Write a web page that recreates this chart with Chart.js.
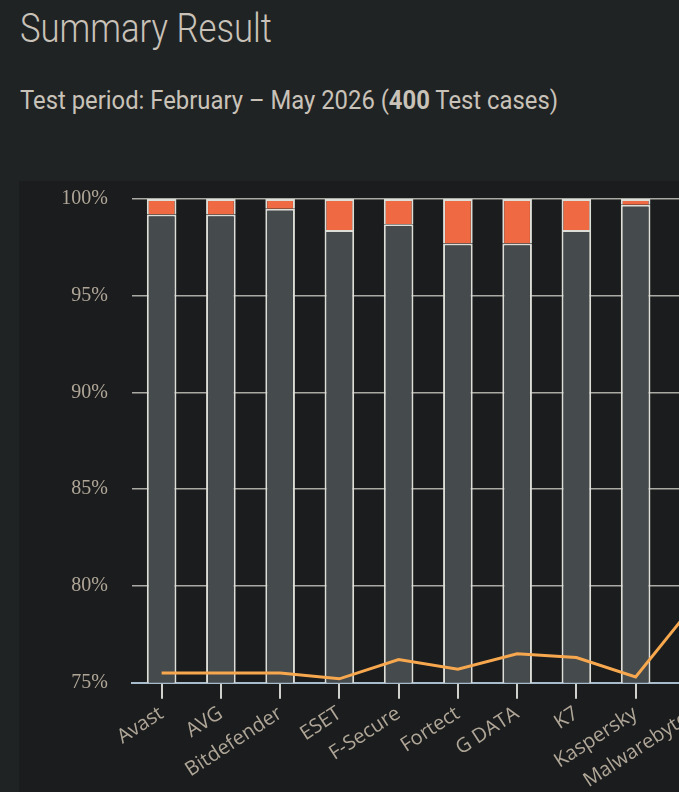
<!DOCTYPE html>
<html>
<head>
<meta charset="utf-8">
<script src="https://cdn.jsdelivr.net/npm/chart.js@4"></script>
<style>
  html, body { margin: 0; padding: 0; background: #202324; overflow: hidden; width: 679px; height: 792px; }
  .hd { position: absolute; left: 20px; margin: 0; color: #c9c2b8; font-family: Roboto, sans-serif; line-height: 1; white-space: nowrap; transform-origin: 0 0; }
  #title { top: 9px; font-size: 40px; font-weight: 300; }
  #sub { top: 87px; font-size: 26px; font-weight: 400; }
  #sub b { font-weight: 700; }
  #wrap { position: absolute; left: 19px; top: 181px; width: 740px; height: 620px; background: #1a1c1d; overflow: hidden; }
  #c { display: block; margin-top: -18.3px; }
</style>
</head>
<body>
<h1 class="hd" id="title">Summary Result</h1>
<p class="hd" id="sub">Test period: February – May 2026 (<b>400</b> Test cases)</p>
<div id="wrap"><canvas id="c" width="740" height="638"></canvas></div>
<script>
const categories = ["Avast", "AVG", "Bitdefender", "ESET", "F-Secure", "Fortect", "G DATA", "K7", "Kaspersky", "Malwarebytes"];
const blocked     = [99.2, 99.2, 99.5, 98.4, 98.7, 97.7, 97.7, 98.4, 99.7, 99.0];
const compromised = [0.8, 0.8, 0.5, 1.6, 1.3, 2.3, 2.3, 1.6, 0.3, 1.0];
const lineValues  = [75.5, 75.5, 75.5, 75.2, 76.2, 75.7, 76.5, 76.3, 75.3, 79.1];
const yTicks = [75, 80, 85, 90, 95, 100];

// condense heading text to reference widths
function fit(id, w) {
  const el = document.getElementById(id);
  const nat = el.getBoundingClientRect().width;
  el.style.transform = 'scaleX(' + (w / nat) + ')';
}
fit('title', 252);
fit('sub', 538);

const labelColor = '#b0a698';
new Chart(document.getElementById('c'), {
  data: {
    labels: categories,
    datasets: [
      { type: 'line', label: 'Line', data: lineValues, borderColor: '#f7a84f', borderWidth: 3,
        pointRadius: 0, tension: 0, fill: false, order: 0, stack: 'line' },
      { type: 'bar', label: 'Blocked', data: blocked, backgroundColor: '#454a4c',
        borderColor: '#deded8', borderWidth: 2, order: 1, stack: 's',
        barPercentage: 0.5, categoryPercentage: 1 },
      { type: 'bar', label: 'Compromised', data: compromised, backgroundColor: '#ef6a42',
        borderColor: '#deded8', borderWidth: 2, order: 1, stack: 's',
        barPercentage: 0.5, categoryPercentage: 1 }
    ]
  },
  options: {
    responsive: false,
    animation: false,
    devicePixelRatio: 1,
    layout: { padding: { top: 0, right: 34.5, bottom: 0, left: 0 } },
    plugins: { legend: { display: false }, tooltip: { enabled: false } },
    scales: {
      x: {
        stacked: true,
        border: { display: true, color: '#a9bccb', width: 2 },
        grid: { drawOnChartArea: false, drawTicks: true, tickLength: 16, color: '#d0d0cc', lineWidth: 2, offset: false },
        ticks: { color: labelColor, font: { family: '"Open Sans", sans-serif', size: 20 },
                 minRotation: 33, maxRotation: 33, padding: 3, autoSkip: false },
        afterFit: s => { s.height = 118.3; }
      },
      y: {
        stacked: true,
        min: 75, max: 100,
        afterBuildTicks: s => { s.ticks = yTicks.map(v => ({ value: v })); },
        border: { display: false },
        grid: { drawTicks: false, color: '#aaa9a3', lineWidth: 1.5 },
        ticks: { color: labelColor, padding: 24, font: { family: '"Liberation Serif", serif', size: 20 },
                 callback: v => v + '%' },
        afterFit: s => { s.width = 113; }
      }
    }
  }
});
</script>
</body>
</html>
